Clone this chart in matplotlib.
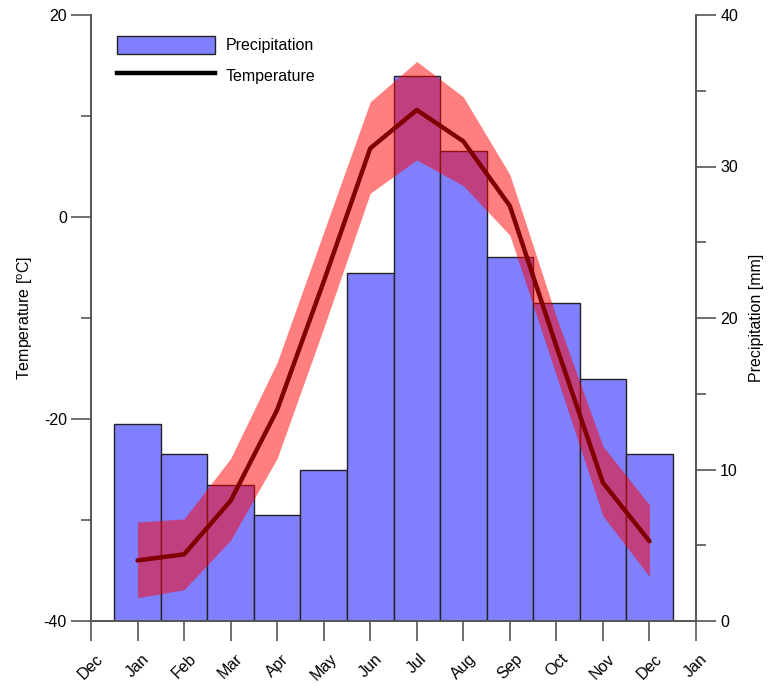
import matplotlib
matplotlib.use("Agg")
import matplotlib.pyplot as plt
import matplotlib.transforms as mtransforms
from matplotlib.patches import Patch
from matplotlib.lines import Line2D
import numpy as np

plt.rcParams['font.family'] = ['Liberation Sans', 'DejaVu Sans']
plt.rcParams['mathtext.fontset'] = 'custom'
plt.rcParams['mathtext.rm'] = 'Liberation Sans'
plt.rcParams['axes.unicode_minus'] = False

# monthly climate values
months = ['Jan', 'Feb', 'Mar', 'Apr', 'May', 'Jun', 'Jul', 'Aug', 'Sep', 'Oct', 'Nov', 'Dec']
tick_labels = ['Dec'] + months + ['Jan']
precip = [13, 11, 9, 7, 10, 23, 36, 31, 24, 21, 16, 11]
temp = [-34.0, -33.4, -28.1, -19.1, -6.4, 6.8, 10.6, 7.5, 1.1, -12.8, -26.3, -32.1]
temp_hi = [-30.2, -29.9, -23.9, -14.4, -1.5, 11.4, 15.4, 11.9, 4.2, -9.9, -22.7, -28.5]
temp_lo = [-37.7, -36.9, -32.0, -23.9, -11.0, 2.35, 5.65, 3.1, -1.8, -15.7, -29.6, -35.6]

x = np.arange(1, len(months) + 1)
fs = 11.5
axis_col = '#555555'

fig = plt.figure(figsize=(7.68, 6.86), dpi=100)
ax = fig.add_axes([91 / 768, 1 - 621 / 686, (696 - 91) / 768, (621 - 15) / 686])
ax2 = ax.twinx()

# bars behind, temperature in front
ax.set_zorder(ax2.get_zorder() + 1)
ax.patch.set_visible(False)

ax2.bar(x, precip, width=1.0, color='#8080ff', edgecolor='#222222', linewidth=1.0)
ax.fill_between(x, temp_lo, temp_hi, color='red', alpha=0.5, linewidth=0)
ax.plot(x, temp, color='#800000', linewidth=3.2, solid_capstyle='round')

ax.set_xlim(0, 13)
ax.set_ylim(-40, 20)
ax2.set_ylim(0, 40)

ax.set_xticks(np.arange(0, 14))
ax.set_xticklabels(tick_labels, rotation=45, ha='center', va='top', fontsize=fs)
shift = mtransforms.ScaledTranslation(3 / 100, 0, fig.dpi_scale_trans)
for lab in ax.get_xticklabels():
    lab.set_transform(lab.get_transform() + shift)

ax.set_yticks([-40, -20, 0, 20])
ax.set_yticks([-30, -10, 10], minor=True)
ax2.set_yticks([0, 10, 20, 30, 40])
ax2.set_yticks([5, 15, 25, 35], minor=True)

for a in (ax, ax2):
    a.spines['top'].set_visible(False)
    for s in a.spines.values():
        s.set_color(axis_col)
        s.set_linewidth(1.2)
    a.tick_params(which='major', length=14.4, width=1.2, color=axis_col,
                  labelsize=fs, direction='out', pad=3)
    a.tick_params(which='minor', length=7.2, width=1.2, color=axis_col,
                  direction='out')
ax.tick_params(axis='x', pad=7.5)

ax.set_ylabel('Temperature [$^{\\rm o}$C]', fontsize=fs, labelpad=6)
ax2.set_ylabel('Precipitation [mm]', fontsize=fs, labelpad=8)

handles = [Patch(facecolor='#8080ff', edgecolor='#222222', linewidth=1.0),
           Line2D([0], [0], color='black', linewidth=3.2)]
ax.legend(handles, ['Precipitation', 'Temperature'], loc='upper left',
          bbox_to_anchor=(0.02, 0.989), frameon=False, fontsize=fs,
          handlelength=6.1, handleheight=1.35, handletextpad=0.7,
          labelspacing=0.77)

fig.savefig('out.png', dpi=100)
